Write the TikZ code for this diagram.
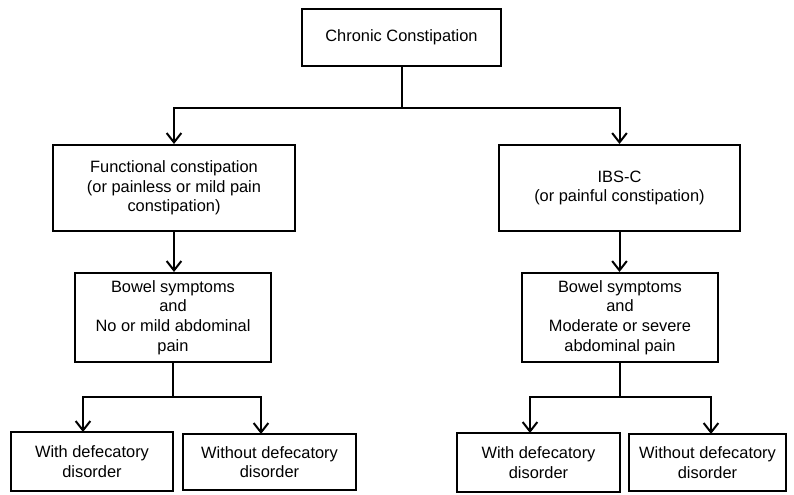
\documentclass[tikz,border=0pt]{standalone}
\usepackage{fontspec}
\setmainfont{Liberation Sans}
\usetikzlibrary{arrows.meta}
\begin{document}
\begin{tikzpicture}[x=0.75pt,y=-0.75pt,
  box/.style={draw,line width=1.5pt,inner sep=0pt,align=center,
    font=\fontsize{12.3}{14.8}\selectfont},
  conn/.style={line width=1.5pt},
  arr/.style={conn,-{Straight Barb[length=7pt,width=11pt,line width=1.5pt]}}]
\useasboundingbox (0,0) rectangle (794,494);
\node[box,minimum width=149.25pt,minimum height=42.75pt] (cc) at (401.5,37.5) {Chronic Constipation};
\node[box,minimum width=181.5pt,minimum height=64.5pt] (fc) at (174,188)
  {Functional constipation\\(or painless or mild pain\\constipation)};
\node[box,minimum width=180.75pt,minimum height=64.5pt] (ibs) at (619.5,188)
  {IBS-C\\(or painful constipation)};
\node[box,minimum width=147pt,minimum height=66.75pt] (bl) at (173,317.5)
  {Bowel symptoms\\and\\No or mild abdominal\\pain};
\node[box,minimum width=147pt,minimum height=66.75pt] (br) at (620,317.5)
  {Bowel symptoms\\and\\Moderate or severe\\abdominal pain};
\node[box,minimum width=121.5pt,minimum height=44.25pt] (ll) at (92,461.5)
  {With defecatory\\disorder};
\node[box,minimum width=129.75pt,minimum height=42pt] (lr) at (269.5,462)
  {Without defecatory\\disorder};
\node[box,minimum width=122.25pt,minimum height=44.25pt] (rl) at (538.5,462.5)
  {With defecatory\\disorder};
\node[box,minimum width=117.75pt,minimum height=42.75pt] (rr) at (707.5,462.5)
  {Without defecatory\\disorder};
\coordinate (j1) at (401.5,108);
\coordinate (j2) at (173,397);
\coordinate (j3) at (620,397);
\coordinate (llin) at (83,432);
\coordinate (lrin) at (261,434);
\coordinate (rlin) at (530,433);
\coordinate (rrin) at (711,434);
\draw[conn] (cc.south) -- (j1);
\draw[arr] (j1) -| (fc.north);
\draw[arr] (j1) -| (ibs.north);
\draw[arr] (fc.south) -- (fc.south |- bl.north);
\draw[arr] (ibs.south) -- (ibs.south |- br.north);
\draw[conn] (bl.south) -- (j2);
\draw[conn] (br.south) -- (j3);
\draw[arr] (j2) -| (llin);
\draw[arr] (j2) -| (lrin);
\draw[arr] (j3) -| (rlin);
\draw[arr] (j3) -| (rrin);
\end{tikzpicture}
\end{document}
